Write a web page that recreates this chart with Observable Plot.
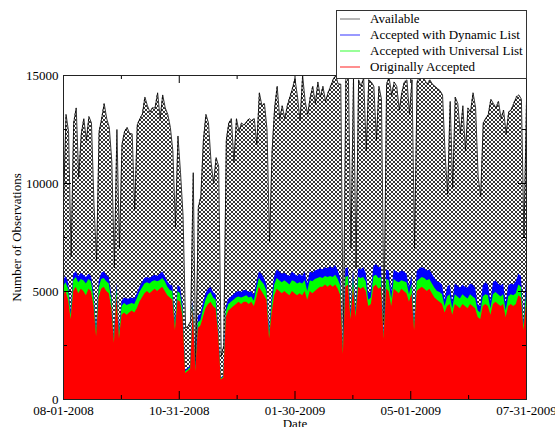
<!DOCTYPE html>
<html><head><meta charset="utf-8">
<script src="https://cdn.jsdelivr.net/npm/d3@7"></script>
<script src="https://cdn.jsdelivr.net/npm/@observablehq/plot@0.6"></script>
<style>
body{margin:0;background:#fff;}
#wrap{position:relative;width:555px;height:427px;overflow:hidden;font-family:"Liberation Serif","Times New Roman",serif;}
#legend{position:absolute;left:336px;top:10px;width:189px;height:67px;border:1px solid #333;background:#fff;font-size:13px;color:#000;}
.row{position:absolute;left:0;height:16px;line-height:16px;white-space:nowrap;width:100%;}
.sw{position:absolute;left:3px;top:6px;}
.lab{position:absolute;left:33px;top:0;}
</style></head><body><div id="wrap"><div id="legend"></div></div>
<script>
const startDate = "2008-08-01";
const endDate = "2009-07-31";
const stepDays = 2;

const available = [
9000,13200,12400,6600,12800,13500,10300,12300,13000,12000,
13100,12800,9000,6400,12400,13000,13700,13000,12600,11000,
6100,12500,7000,11800,12400,12600,12300,12300,8800,12700,
13000,13200,14000,13600,13300,13500,13500,14200,13000,14100,
13500,13200,12600,11500,8000,12200,10500,8500,3300,3400,
3600,10500,1500,8900,9400,12000,13200,12800,11000,10000,
11200,10800,2000,2500,12000,12800,13000,11000,13000,12400,
12800,12700,12850,13000,12900,13000,11800,14200,13600,13700,
12500,7300,11500,13500,14500,13000,13600,13000,13600,14000,
14400,14850,14000,12900,15000,13800,13200,14000,14500,13700,
14700,14000,14500,13800,14200,14500,14800,15000,14600,14600,
2400,15000,14900,7000,14900,6100,14800,14500,14900,11500,
14800,14700,14500,12000,14500,13900,3500,14600,14900,14100,
14700,14500,13400,14200,14700,14800,13200,14800,7000,14700,
15000,14900,14800,14600,14800,14600,14500,14400,14300,14100,
11400,9500,13800,9800,14000,13700,12300,13600,11500,13500,
13300,14200,13500,10300,9400,12800,13000,13200,13900,13700,
13500,13800,13000,13400,12300,13300,13400,13700,14000,14100,
13900,7500,13800];

const dynamicList = [
5500,5700,5400,4100,5800,5900,5700,5850,5750,5650,
5800,5700,4950,3300,5450,5850,5900,5750,5650,4850,
2900,5400,3200,4550,4700,4650,4650,4700,4650,4900,
5200,5400,5600,5650,5600,5700,5750,5700,5800,5900,
5700,5450,5300,5250,3600,5250,5200,4350,1350,1450,
1550,4600,1450,3850,3950,4450,4900,5100,5200,4950,
4850,3400,1000,1100,4300,4650,4750,4850,4950,5000,
4950,5050,5050,4950,5000,4800,5400,5900,5800,5600,
5300,3200,4700,5700,6000,5900,5800,5850,5750,5700,
5900,5800,5700,5800,5700,5900,5350,5900,5850,5950,
6000,6050,6000,6100,6050,6150,6050,6200,5950,5600,
2400,6050,6100,4100,6000,4200,6050,6000,6100,5850,
4900,5000,6150,6250,6100,6150,3050,6000,5950,5000,
6000,5900,5850,5950,5900,5800,5200,5750,3500,5900,
6050,6100,6050,5950,6000,5800,5600,5450,5400,5300,
4600,5200,5300,4500,5350,5250,5150,5300,5200,5150,
5350,5300,5150,4400,4300,5250,5400,5300,4550,5400,
5500,5350,5250,5350,4450,5250,5350,5300,5450,5800,
5700,3600,5500];

const universalList = [
5200,5400,5100,3900,5500,5650,5400,5550,5500,5350,
5550,5450,4700,3100,5150,5550,5600,5450,5350,4600,
2750,5150,3000,4300,4450,4350,4400,4450,4400,4650,
4950,5150,5350,5400,5350,5450,5500,5450,5500,5600,
5450,5200,5050,5000,3400,5000,4900,4100,1280,1380,
1480,4400,1380,3550,3650,4150,4600,4850,4950,4700,
4600,3200,950,1050,4050,4400,4500,4600,4700,4750,
4700,4750,4800,4700,4750,4550,5100,5600,5450,5300,
5000,3000,4400,5300,5600,5500,5400,5500,5400,5300,
5500,5450,5350,5400,5350,5500,5000,5500,5450,5550,
5600,5650,5600,5700,5650,5700,5650,5750,5550,5250,
2250,5650,5700,3900,5650,4000,5650,5600,5650,5450,
4600,4700,5700,5750,5600,5650,2900,5550,5500,4650,
5550,5450,5400,5500,5450,5400,4850,5350,3350,5450,
5550,5650,5600,5500,5550,5350,5150,5000,4950,4850,
4300,4750,4850,4200,4850,4750,4650,4850,4750,4650,
4850,4750,4650,4100,4000,4750,4850,4800,4200,4850,
4950,4850,4750,4850,4100,4750,4850,4800,4900,5300,
5200,3400,4900];

const originallyAccepted = [
4800,5000,4600,3700,5000,5200,4900,5100,5000,4800,
5100,5000,4300,2900,4700,5100,5200,5000,4900,4200,
2600,4800,2800,3900,4000,3900,4000,4100,4000,4200,
4500,4700,4900,5000,4900,5000,5100,5000,5100,5200,
5000,4800,4700,4600,3200,4600,4500,3800,1200,1300,
1400,4200,1300,3300,3400,3800,4200,4400,4500,4300,
4200,3000,900,1000,3800,4100,4200,4300,4400,4500,
4400,4500,4500,4400,4500,4300,4700,5200,5000,4800,
4600,2800,4000,4800,5100,5000,4900,5000,4900,4800,
5000,4900,4800,4900,4800,5000,4600,5000,4900,5000,
5100,5200,5200,5300,5200,5300,5200,5300,5100,4800,
2100,5200,5300,3700,5200,3800,5200,5100,5200,5000,
4300,4400,5200,5300,5100,5200,2800,5100,5000,4300,
5100,5000,4900,5100,5000,4900,4500,4900,3200,5000,
5100,5200,5100,5000,5100,4900,4700,4600,4500,4400,
4000,4300,4400,3900,4400,4300,4200,4400,4300,4200,
4400,4300,4200,3800,3700,4300,4400,4300,3900,4400,
4500,4400,4300,4400,3800,4300,4400,4300,4400,4800,
4700,3200,4400];

const xTickLabels = ["08-01-2008","10-31-2008","01-30-2009","05-01-2009","07-31-2009"];
const yTicks = [0, 5000, 10000, 15000];
const yMinorTicks = [2500, 7500, 12500];
const seriesNames = ["Available","Accepted with Dynamic List","Accepted with Universal List","Originally Accepted"];
const seriesColors = ["#000000","#0000ff","#00ff00","#ff0000"];
const legendLineColors = ["#888888","#5555ff","#55ff55","#ff4444"];

const W = 555, H = 427;
const mL = 63, mR = 29, mT = 75, mB = 28;
const plotW = W - mL - mR, plotH = H - mT - mB;

const start = d3.utcParse("%Y-%m-%d")(startDate);
const end = d3.utcParse("%Y-%m-%d")(endDate);
const parseTick = d3.utcParse("%m-%d-%Y");
const fmtTick = d3.utcFormat("%m-%d-%Y");

const data = available.map((v, i) => ({
  date: d3.utcDay.offset(start, i * stepDays),
  avail: v,
  dyn: dynamicList[i],
  uni: universalList[i],
  orig: originallyAccepted[i]
}));

const xMajor = xTickLabels.map(parseTick);
const xMinor = d3.pairs(xMajor).map(([a, b]) => new Date((+a + +b) / 2));

const major = 8, minor = 4;

const chart = Plot.plot({
  width: W, height: H,
  marginLeft: mL, marginRight: mR, marginTop: mT, marginBottom: mB,
  style: {fontFamily: '"Liberation Serif","Times New Roman",serif', fontSize: "13px", background: "#fff", color: "#000"},
  x: {type: "utc", domain: [start, end]},
  y: {domain: [0, 15000]},
  marks: [
    Plot.areaY(data, {x: "date", y: "avail", fill: "url(#xhatch)"}),
    Plot.lineY(data, {x: "date", y: "avail", stroke: seriesColors[0], strokeWidth: 0.8}),
    Plot.areaY(data, {x: "date", y: "dyn", fill: seriesColors[1]}),
    Plot.areaY(data, {x: "date", y: "uni", fill: seriesColors[2]}),
    Plot.areaY(data, {x: "date", y: "orig", fill: seriesColors[3]}),
    // inward ticks
    Plot.ruleX(xMajor, {x: d => d, insetTop: plotH - major, stroke: "#000"}),
    Plot.ruleX(xMajor, {x: d => d, insetBottom: plotH - major, stroke: "#000"}),
    Plot.ruleX(xMinor, {x: d => d, insetTop: plotH - minor, stroke: "#000"}),
    Plot.ruleX(xMinor, {x: d => d, insetBottom: plotH - minor, stroke: "#000"}),
    Plot.ruleY(yTicks, {y: d => d, insetRight: plotW - major, stroke: "#000"}),
    Plot.ruleY(yTicks, {y: d => d, insetLeft: plotW - major, stroke: "#000"}),
    Plot.ruleY(yMinorTicks, {y: d => d, insetRight: plotW - minor, stroke: "#000"}),
    Plot.ruleY(yMinorTicks, {y: d => d, insetLeft: plotW - minor, stroke: "#000"}),
    Plot.frame({stroke: "#222"}),
    Plot.axisX(xMajor, {tickSize: 0, tickPadding: 6, tickFormat: fmtTick, fontSize: 13,
      label: "Date", labelArrow: false, labelAnchor: "center", labelOffset: 28}),
    Plot.axisY(yTicks, {tickSize: 0, tickPadding: 5, tickFormat: d => String(d), fontSize: 13,
      label: "Number of Observations", labelArrow: false, labelAnchor: "center", labelOffset: 52})
  ]
});

d3.select(chart).insert("defs", ":first-child").html(
  '<pattern id="xhatch" patternUnits="userSpaceOnUse" width="4" height="4">' +
  '<rect width="4" height="4" fill="#fff"/>' +
  '<path d="M0,0L4,4M4,0L0,4" stroke="#000" stroke-width="0.8" fill="none"/>' +
  '</pattern>');

const wrap = document.getElementById("wrap");
wrap.insertBefore(chart, wrap.firstChild);

const legend = d3.select("#legend");
seriesNames.forEach((name, i) => {
  const row = legend.append("div").attr("class", "row").style("top", (i * 16) + "px");
  const sw = row.append("svg").attr("class", "sw").attr("width", 22).attr("height", 4);
  sw.append("line")
    .attr("x1", 0).attr("x2", 20).attr("y1", 2).attr("y2", 2)
    .attr("stroke", legendLineColors[i]).attr("stroke-width", 1.2);
  row.append("span").attr("class", "lab").text(name);
});
</script>
</body></html>
